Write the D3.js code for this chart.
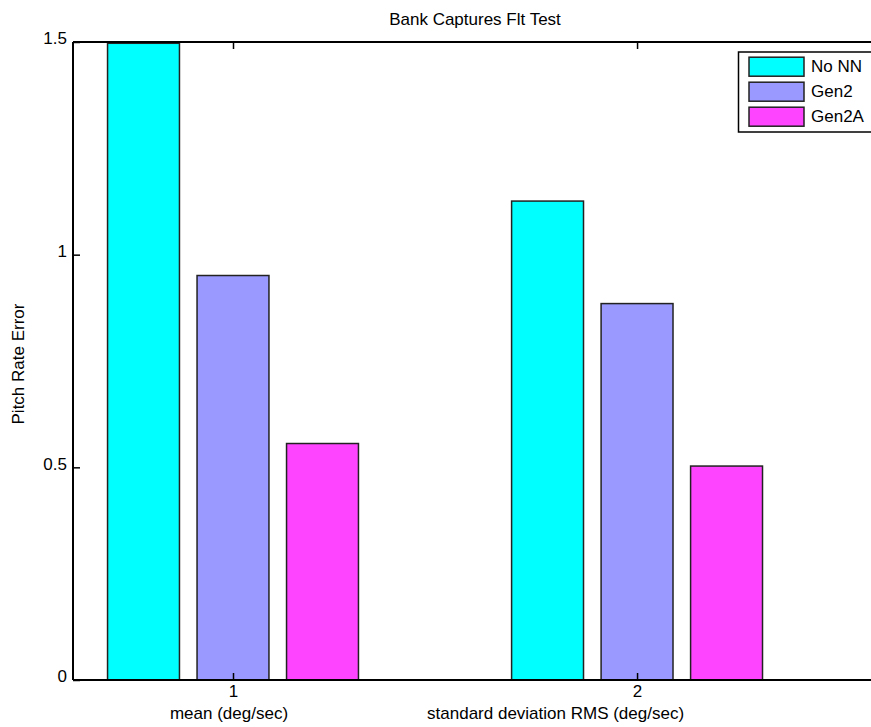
<!DOCTYPE html>
<html>
<head>
<meta charset="utf-8">
<script src="https://cdn.jsdelivr.net/npm/d3@7"></script>
<style>
  html, body { margin: 0; padding: 0; background: #fff; }
  svg { display: block; }
  text { font-family: "Liberation Sans", Arial, Helvetica, sans-serif; fill: #000; }
</style>
</head>
<body>
<svg id="chart" width="871" height="727"></svg>
<script>
// ---- data ----
const categories = [1, 2];
const categoryLabels = ["mean (deg/sec)", "standard deviation RMS (deg/sec)"];
const seriesNames = ["No NN", "Gen2", "Gen2A"];
const seriesColors = ["#00ffff", "#9999ff", "#ff44ff"];
const noNN = [1.497, 1.126];
const gen2 = [0.951, 0.885];
const gen2A = [0.556, 0.503];
const yTicks = [0, 0.5, 1, 1.5];
const yTickLabels = ["0", "0.5", "1", "1.5"];
const chartTitle = "Bank Captures Flt Test";
const yLabel = "Pitch Rate Error";

const seriesValues = [noNN, gen2, gen2A];

(function () {
  // ---- layout ----
  const svg = d3.select("#chart");
  const mLeft = 73, mRight = 871, mTop = 42, mBottom = 680;
  const x = d3.scaleLinear().domain([0.604, 2.579]).range([mLeft, mRight]);
  const y = d3.scaleLinear().domain([0, 1.5]).range([mBottom, mTop]);
  const barWidth = 0.178;
  const barOffset = 0.2215;

  svg.append("rect").attr("width", 871).attr("height", 727).attr("fill", "#fff");

  // bars
  seriesValues.forEach((vals, si) => {
    svg.append("g").selectAll("rect")
      .data(categories.map((c, i) => ({ c, v: vals[i] })))
      .join("rect")
      .attr("x", d => x(d.c + (si - 1) * barOffset - barWidth / 2))
      .attr("width", d => x(d.c + barWidth) - x(d.c))
      .attr("y", d => y(d.v))
      .attr("height", d => y(0) - y(d.v))
      .attr("fill", seriesColors[si])
      .attr("stroke", "#222")
      .attr("stroke-width", 1.5);
  });

  // y axis (ticks inward)
  const yAxis = d3.axisLeft(y).tickValues(yTicks)
    .tickFormat((d, i) => yTickLabels[i]).tickSize(-7).tickPadding(14);
  const gy = svg.append("g").attr("transform", `translate(${mLeft},0)`).call(yAxis);
  gy.select(".domain").remove();
  gy.selectAll("line").attr("stroke", "#000").attr("stroke-width", 1.5);
  gy.selectAll("text").attr("font-size", 17).attr("font-family", null).attr("dy", "0.1em").attr("x", -6);

  // top x ticks (inward)
  const xTop = d3.axisTop(x).tickValues(categories).tickSize(-7).tickFormat("");
  const gxt = svg.append("g").attr("transform", `translate(0,${mTop})`).call(xTop);
  gxt.select(".domain").remove();
  gxt.selectAll("line").attr("stroke", "#000").attr("stroke-width", 1.5);

  // bottom x axis labels
  const xBottom = d3.axisBottom(x).tickValues(categories).tickSize(-7).tickPadding(6).tickFormat(d3.format("d"));
  const gxb = svg.append("g").attr("transform", `translate(0,${mBottom})`).call(xBottom);
  gxb.select(".domain").remove();
  gxb.selectAll("line").attr("stroke", "#000").attr("stroke-width", 1.5);
  gxb.selectAll("text").attr("font-size", 17).attr("font-family", null).attr("y", 5).attr("dy", "0.71em");

  // axis lines
  svg.append("line").attr("x1", mLeft).attr("x2", mRight).attr("y1", mTop).attr("y2", mTop).attr("stroke", "#000").attr("stroke-width", 2);
  svg.append("line").attr("x1", mLeft).attr("x2", mRight).attr("y1", mBottom).attr("y2", mBottom).attr("stroke", "#000").attr("stroke-width", 2);
  svg.append("line").attr("x1", mLeft).attr("x2", mLeft).attr("y1", mTop).attr("y2", mBottom).attr("stroke", "#000").attr("stroke-width", 2);

  // category descriptor labels
  svg.append("text").attr("x", x(1) - 4).attr("y", 719).attr("text-anchor", "middle").attr("font-size", 17).text(categoryLabels[0]);
  svg.append("text").attr("x", x(2) - 210).attr("y", 719).attr("text-anchor", "start").attr("font-size", 17).text(categoryLabels[1]);

  // title
  svg.append("text").attr("x", 475).attr("y", 25).attr("text-anchor", "middle").attr("font-size", 17).text(chartTitle);

  // y label
  svg.append("text").attr("transform", "translate(24,364) rotate(-90)").attr("text-anchor", "middle").attr("font-size", 17).text(yLabel);

  // legend
  const lg = svg.append("g");
  lg.append("rect").attr("x", 738.5).attr("y", 52).attr("width", 140).attr("height", 80)
    .attr("fill", "#fff").attr("stroke", "#000").attr("stroke-width", 1.5);
  seriesNames.forEach((name, i) => {
    const cy = 66.7 + i * 25;
    lg.append("rect").attr("x", 749).attr("y", cy - 9.5).attr("width", 55).attr("height", 19)
      .attr("fill", seriesColors[i]).attr("stroke", "#222").attr("stroke-width", 1.5);
    lg.append("text").attr("x", 811).attr("y", cy + 5.5).attr("font-size", 17).text(name);
  });
})();
</script>
</body>
</html>
